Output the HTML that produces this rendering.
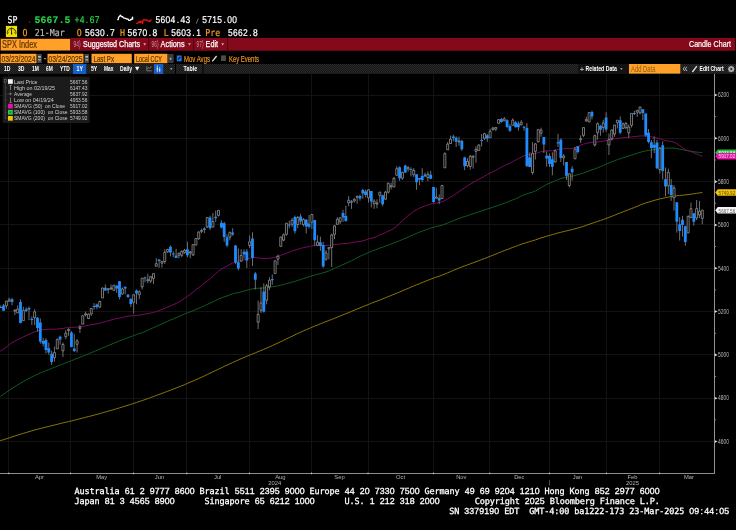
<!DOCTYPE html>
<html><head><meta charset="utf-8"><title>SPX Index Candle Chart</title>
<style>html,body{margin:0;padding:0;background:#000;overflow:hidden}svg{display:block}text{white-space:pre}</style>
</head><body>
<svg width="736" height="530" viewBox="0 0 736 530">
<rect width="736" height="530" fill="#000"/>
<text transform="translate(7.5,23) scale(0.86,1)" fill="#fff" xml:space="preserve" text-rendering="geometricPrecision" stroke="#fff" stroke-width="0.22"><tspan font-family="DejaVu Sans Mono, Liberation Mono, monospace" font-size="9.6" x="0.02 5.83">SP</tspan></text>
<rect x="29" y="21.5" width="1.2" height="1.2" fill="#e01010"/>
<text transform="translate(34.5,23) scale(1.0,1)" fill="#28d848" xml:space="preserve" text-rendering="geometricPrecision" stroke="#28d848" stroke-width="0.15" font-weight="bold"><tspan font-family="Liberation Sans, DejaVu Sans, sans-serif" font-size="9.6" x="0.33 6.33 12.33 18.33 25.67 30.33">5667.5</tspan></text>
<text transform="translate(74.5,23) scale(0.86,1)" fill="#28d848" xml:space="preserve" text-rendering="geometricPrecision" stroke="#28d848" stroke-width="0.22"><tspan font-family="Liberation Sans, DejaVu Sans, sans-serif" font-size="9.8" x="0.05 6.00 13.17 17.62 23.44">+4.67</tspan></text>
<path d="M117.2,19.6 L118.3,19.5 L118.6,17.2 L119.4,16.5 L120.5,15.3 L121.5,16.5 L122.5,16.7 L123.5,17.8 L124.5,18.2 L126,18.5 L127,19.2 L128,19 L128.8,20.3 L130,20.4 L130.8,19.3 L131.8,19.5 L132.6,17.2 L132.7,19.6" fill="none" stroke="#fff" stroke-width="1.3" stroke-linejoin="round"/>
<path d="M136.2,23.5 L137.5,23.3 L138.5,22.3 L139.5,21.5 L140.3,22.8 L141,21.3 L142,21.8 L142.6,23.4 L142.9,20.5 L143.6,19.6 L144.5,19.7 L145.5,20.3 L146.3,19.8 L147.5,20.3 L148.5,21.2 L149.5,21.5 L150.3,20.5 L151.5,19.5" fill="none" stroke="#f01010" stroke-width="1.3" stroke-linejoin="round"/>
<text transform="translate(155.3,23) scale(0.86,1)" fill="#fff" xml:space="preserve" text-rendering="geometricPrecision" stroke="#fff" stroke-width="0.22"><tspan font-family="Liberation Sans, DejaVu Sans, sans-serif" font-size="9.8" x="0.18 6.00 11.81 17.62 24.80 29.25 35.07">5604.43</tspan></text>
<text transform="translate(194.8,23) scale(0.86,1)" fill="#8a8a8a" xml:space="preserve" text-rendering="geometricPrecision" stroke="#8a8a8a" stroke-width="0.22"><tspan font-family="DejaVu Sans Mono, Liberation Mono, monospace" font-size="6.0" x="1.10">/</tspan></text>
<text transform="translate(202.2,23) scale(0.86,1)" fill="#fff" xml:space="preserve" text-rendering="geometricPrecision" stroke="#fff" stroke-width="0.22"><tspan font-family="Liberation Sans, DejaVu Sans, sans-serif" font-size="9.8" x="0.18 6.00 11.81 17.62 24.80 29.25 35.07">5715.00</tspan></text>
<rect x="5.9" y="25.9" width="11.2" height="11.2" fill="#efe004"/>
<path d="M7.5,34.2 A4.4,4.4 0 1 1 15.7,34.2" fill="none" stroke="#3a3400" stroke-width="0.9"/>
<path d="M11.35,27.2 L11.85,27.2 L12.2,34.4 L11.0,34.4 z" fill="#1e1a00"/>
<path d="M8.6,30.4 l0.7,0.5 M14.6,30.4 l-0.7,0.5 M8.2,32.6 h0.9 M15,32.6 h-0.9 M9.9,28.9 l0.4,0.7 M13.3,28.9 l-0.4,0.7" fill="none" stroke="#3a3400" stroke-width="0.6"/>
<text transform="translate(22.5,35.8) scale(0.86,1)" fill="#f59a1c" xml:space="preserve" text-rendering="geometricPrecision" stroke="#f59a1c" stroke-width="0.22"><tspan font-family="DejaVu Sans Mono, Liberation Mono, monospace" font-size="9.6" x="0.02">O</tspan></text>
<text transform="translate(34.8,35.8) scale(0.86,1)" fill="#b8b8b8" xml:space="preserve" text-rendering="geometricPrecision" stroke="#b8b8b8" stroke-width="0.22"><tspan font-family="DejaVu Sans Mono, Liberation Mono, monospace" font-size="9.6" x="0.02 5.83 11.65 17.46 23.27 29.09">21-Mar</tspan></text>
<text transform="translate(76.8,35.8) scale(0.86,1)" fill="#f59a1c" xml:space="preserve" text-rendering="geometricPrecision" stroke="#f59a1c" stroke-width="0.22"><tspan font-family="DejaVu Sans Mono, Liberation Mono, monospace" font-size="9.6" x="0.02">O</tspan></text>
<text transform="translate(84.8,35.8) scale(0.86,1)" fill="#fff" xml:space="preserve" text-rendering="geometricPrecision" stroke="#fff" stroke-width="0.22"><tspan font-family="Liberation Sans, DejaVu Sans, sans-serif" font-size="9.8" x="0.18 6.00 11.81 17.62 24.80 29.25">5630.7</tspan></text>
<text transform="translate(120,35.8) scale(0.86,1)" fill="#f59a1c" xml:space="preserve" text-rendering="geometricPrecision" stroke="#f59a1c" stroke-width="0.22"><tspan font-family="DejaVu Sans Mono, Liberation Mono, monospace" font-size="9.6" x="0.02">H</tspan></text>
<text transform="translate(127.3,35.8) scale(0.86,1)" fill="#fff" xml:space="preserve" text-rendering="geometricPrecision" stroke="#fff" stroke-width="0.22"><tspan font-family="Liberation Sans, DejaVu Sans, sans-serif" font-size="9.8" x="0.18 6.00 11.81 17.62 24.80 29.25">5670.8</tspan></text>
<text transform="translate(163.8,35.8) scale(0.86,1)" fill="#f59a1c" xml:space="preserve" text-rendering="geometricPrecision" stroke="#f59a1c" stroke-width="0.22"><tspan font-family="DejaVu Sans Mono, Liberation Mono, monospace" font-size="9.6" x="0.02">L</tspan></text>
<text transform="translate(171,35.8) scale(0.86,1)" fill="#fff" xml:space="preserve" text-rendering="geometricPrecision" stroke="#fff" stroke-width="0.22"><tspan font-family="Liberation Sans, DejaVu Sans, sans-serif" font-size="9.8" x="0.18 6.00 11.81 17.62 24.80 29.25">5603.1</tspan></text>
<text transform="translate(205.3,35.8) scale(0.86,1)" fill="#f59a1c" xml:space="preserve" text-rendering="geometricPrecision" stroke="#f59a1c" stroke-width="0.22"><tspan font-family="DejaVu Sans Mono, Liberation Mono, monospace" font-size="9.6" x="0.02 5.83 11.65">Pre</tspan></text>
<text transform="translate(227.8,35.8) scale(0.86,1)" fill="#fff" xml:space="preserve" text-rendering="geometricPrecision" stroke="#fff" stroke-width="0.22"><tspan font-family="Liberation Sans, DejaVu Sans, sans-serif" font-size="9.8" x="0.18 6.00 11.81 17.62 24.80 29.25">5662.8</tspan></text>
<rect x="0" y="37.9" width="735.3" height="12.85" fill="#84091b"/>
<rect x="0" y="38" width="70.8" height="12.8" fill="#3c1c04"/>
<rect x="0.8" y="39" width="69.3" height="11.4" fill="#ffa028"/>
<text x="2" y="47.8" font-family="Liberation Sans, DejaVu Sans, sans-serif" font-size="10.6" fill="#5c3200" stroke="#5c3200" stroke-width="0.2" textLength="35" lengthAdjust="spacingAndGlyphs">SPX Index</text>
<text x="73.6" y="46.8" font-family="Liberation Sans, DejaVu Sans, sans-serif" font-size="9.4" fill="#b898a8" textLength="7" lengthAdjust="spacingAndGlyphs">94)</text>
<text x="83" y="46.8" font-family="Liberation Sans, DejaVu Sans, sans-serif" font-size="9.4" fill="#fff" stroke="#fff" stroke-width="0.25" textLength="57" lengthAdjust="spacingAndGlyphs">Suggested Charts</text>
<path d="M143.29999999999998,43.2 h2.8 l-1.4,2.3 z" fill="#d2b0b8"/>
<line x1="148.6" y1="38" x2="148.6" y2="50.6" stroke="#4a0410" stroke-width="1"/>
<text x="151.6" y="46.8" font-family="Liberation Sans, DejaVu Sans, sans-serif" font-size="9.4" fill="#b898a8" textLength="7" lengthAdjust="spacingAndGlyphs">96)</text>
<text x="160.6" y="46.8" font-family="Liberation Sans, DejaVu Sans, sans-serif" font-size="9.4" fill="#fff" stroke="#fff" stroke-width="0.25" textLength="24" lengthAdjust="spacingAndGlyphs">Actions</text>
<path d="M188.1,43.2 h2.8 l-1.4,2.3 z" fill="#d2b0b8"/>
<line x1="193.5" y1="38" x2="193.5" y2="50.6" stroke="#4a0410" stroke-width="1"/>
<text x="196.6" y="46.8" font-family="Liberation Sans, DejaVu Sans, sans-serif" font-size="9.4" fill="#b898a8" textLength="7" lengthAdjust="spacingAndGlyphs">97)</text>
<text x="205.6" y="46.8" font-family="Liberation Sans, DejaVu Sans, sans-serif" font-size="9.4" fill="#fff" stroke="#fff" stroke-width="0.25" textLength="12.5" lengthAdjust="spacingAndGlyphs">Edit</text>
<path d="M221.29999999999998,43.2 h2.8 l-1.4,2.3 z" fill="#d2b0b8"/>
<line x1="227.6" y1="38" x2="227.6" y2="50.6" stroke="#4a0410" stroke-width="1"/>
<text x="689" y="47" font-family="Liberation Sans, DejaVu Sans, sans-serif" font-size="9.6" fill="#fff" stroke="#fff" stroke-width="0.2" textLength="42" lengthAdjust="spacingAndGlyphs">Candle Chart</text>
<rect x="0.5" y="53.8" width="36.0" height="9.4" fill="#ffa028"/>
<text x="1.5" y="61.6" font-family="Liberation Sans, DejaVu Sans, sans-serif" font-size="9.2" fill="#583200" stroke="#583200" stroke-width="0.2" textLength="34" lengthAdjust="spacingAndGlyphs">03/23/2024</text>
<rect x="37.3" y="54" width="4.4" height="9" fill="#4a4a4a"/>
<rect x="38.099999999999994" y="56" width="2.8" height="1.6" fill="#bbb"/>
<rect x="38.099999999999994" y="59" width="2.8" height="1.6" fill="#999"/>
<rect x="44" y="58.2" width="2.2" height="1" fill="#f59a1c"/>
<rect x="47.5" y="53.8" width="36.0" height="9.4" fill="#ffa028"/>
<text x="48.5" y="61.6" font-family="Liberation Sans, DejaVu Sans, sans-serif" font-size="9.2" fill="#583200" stroke="#583200" stroke-width="0.2" textLength="34" lengthAdjust="spacingAndGlyphs">03/24/2025</text>
<rect x="84.5" y="54" width="4.4" height="9" fill="#4a4a4a"/>
<rect x="85.3" y="56" width="2.8" height="1.6" fill="#bbb"/>
<rect x="85.3" y="59" width="2.8" height="1.6" fill="#999"/>
<rect x="91.5" y="53.8" width="40.30000000000001" height="9.4" fill="#ffa028"/>
<text x="93.5" y="61.6" font-family="Liberation Sans, DejaVu Sans, sans-serif" font-size="9.2" fill="#583200" stroke="#583200" stroke-width="0.2" textLength="20.5" lengthAdjust="spacingAndGlyphs">Last Px</text>
<rect x="134.2" y="53.8" width="33.30000000000001" height="9.4" fill="#ffa028"/>
<text x="136" y="61.6" font-family="Liberation Sans, DejaVu Sans, sans-serif" font-size="9.2" fill="#583200" stroke="#583200" stroke-width="0.2" textLength="26" lengthAdjust="spacingAndGlyphs">Local CCY</text>
<rect x="168" y="54" width="5.6" height="9" fill="#3c3c3c"/>
<path d="M169.8,57.2 l2.2,1.5 l-2.2,1.5 z" fill="#aaa"/>
<rect x="176.8" y="55.5" width="4.8" height="5.8" fill="#1f7ae8"/>
<path d="M177.9,59.6 l2.4,-2.8" fill="none" stroke="#04183c" stroke-width="1.2"/>
<text x="184" y="61.8" font-family="Liberation Sans, DejaVu Sans, sans-serif" font-size="9" fill="#f0941c" stroke="#f0941c" stroke-width="0.2" textLength="26" lengthAdjust="spacingAndGlyphs">Mov Avgs</text>
<path d="M212.3,61.3 L216.6,56" fill="none" stroke="#ddd" stroke-width="1.3"/>
<rect x="221" y="55.4" width="4.9" height="5.6" fill="#4c4c4c"/>
<text x="229" y="61.8" font-family="Liberation Sans, DejaVu Sans, sans-serif" font-size="9" fill="#f0941c" stroke="#f0941c" stroke-width="0.2" textLength="30" lengthAdjust="spacingAndGlyphs">Key Events</text>
<defs><pattern id="dth" width="2" height="2" patternUnits="userSpaceOnUse"><rect width="2" height="2" fill="#161616"/><rect width="1" height="1" fill="#2a2a2a"/><rect x="1" y="1" width="1" height="1" fill="#2a2a2a"/></pattern></defs>
<rect x="0" y="64" width="736" height="9.8" fill="url(#dth)"/>
<text x="4" y="71.4" font-family="Liberation Sans, DejaVu Sans, sans-serif" font-size="7.2" fill="#fff" textLength="6.5" lengthAdjust="spacingAndGlyphs" font-weight="bold">1D</text>
<text x="18" y="71.4" font-family="Liberation Sans, DejaVu Sans, sans-serif" font-size="7.2" fill="#fff" textLength="6.5" lengthAdjust="spacingAndGlyphs" font-weight="bold">3D</text>
<text x="32" y="71.4" font-family="Liberation Sans, DejaVu Sans, sans-serif" font-size="7.2" fill="#fff" textLength="6.8" lengthAdjust="spacingAndGlyphs" font-weight="bold">1M</text>
<text x="46" y="71.4" font-family="Liberation Sans, DejaVu Sans, sans-serif" font-size="7.2" fill="#fff" textLength="6.8" lengthAdjust="spacingAndGlyphs" font-weight="bold">6M</text>
<text x="60" y="71.4" font-family="Liberation Sans, DejaVu Sans, sans-serif" font-size="7.2" fill="#fff" textLength="9.8" lengthAdjust="spacingAndGlyphs" font-weight="bold">YTD</text>
<rect x="73" y="64" width="13.2" height="10" fill="#1560c8"/>
<text x="76.5" y="71.4" font-family="Liberation Sans, DejaVu Sans, sans-serif" font-size="7.2" fill="#fff" textLength="6.5" lengthAdjust="spacingAndGlyphs" font-weight="bold">1Y</text>
<text x="91" y="71.4" font-family="Liberation Sans, DejaVu Sans, sans-serif" font-size="7.2" fill="#fff" textLength="6.3" lengthAdjust="spacingAndGlyphs" font-weight="bold">5Y</text>
<text x="104" y="71.4" font-family="Liberation Sans, DejaVu Sans, sans-serif" font-size="7.2" fill="#fff" textLength="9.5" lengthAdjust="spacingAndGlyphs" font-weight="bold">Max</text>
<text x="120" y="71.4" font-family="Liberation Sans, DejaVu Sans, sans-serif" font-size="7.2" fill="#fff" textLength="12.2" lengthAdjust="spacingAndGlyphs" font-weight="bold">Daily</text>
<path d="M135,66.8 h4.4 l-2.2,4 z" fill="#fff"/>
<path d="M146.8,70.8 v-4.6 M146.8,70.8 h4.8 M147.5,69 l1.2,-1.6 l1,1 l1.6,-2" fill="none" stroke="#8a8a8a" stroke-width="0.8"/>
<rect x="154" y="64" width="9.2" height="10" fill="#1560c8"/>
<line x1="157.3" y1="65.4" x2="157.3" y2="72.2" stroke="#e4ecff" stroke-width="0.7"/>
<rect x="156.8" y="68" width="1.0" height="2.4" fill="#e4ecff"/>
<line x1="159.7" y1="67.2" x2="159.7" y2="72.2" stroke="#e4ecff" stroke-width="0.7"/>
<rect x="159.2" y="69" width="1.0" height="2" fill="#e4ecff"/>
<path d="M170,68.2 h2.4 l-1.2,1.8 z" fill="#bbb"/>
<line x1="175.5" y1="64" x2="175.5" y2="74" stroke="#000" stroke-width="1"/>
<text x="183.6" y="71.4" font-family="Liberation Sans, DejaVu Sans, sans-serif" font-size="7.2" fill="#fff" textLength="13.6" lengthAdjust="spacingAndGlyphs" font-weight="bold">Table</text>
<line x1="203" y1="64" x2="203" y2="74" stroke="#000" stroke-width="1"/>
<rect x="578" y="64" width="50.5" height="10" fill="#121212"/>
<text x="579.8" y="71.8" font-family="Liberation Sans, DejaVu Sans, sans-serif" font-size="8" fill="#aaa" textLength="4.4" lengthAdjust="spacingAndGlyphs" font-weight="bold">+</text>
<text x="585.5" y="71.4" font-family="Liberation Sans, DejaVu Sans, sans-serif" font-size="7.2" fill="#fff" textLength="31.5" lengthAdjust="spacingAndGlyphs" font-weight="bold">Related Data</text>
<path d="M620.2,68.2 h2.4 l-1.2,1.8 z" fill="#bbb"/>
<rect x="629" y="64" width="51.3" height="9.6" fill="#ffa028"/>
<text x="631" y="71.8" font-family="Liberation Sans, DejaVu Sans, sans-serif" font-size="8.6" fill="#8e5c0c" textLength="24.5" lengthAdjust="spacingAndGlyphs">Add Data</text>
<text x="682.6" y="72" font-family="Liberation Sans, DejaVu Sans, sans-serif" font-size="10" fill="#c4c4c4" textLength="5.2" lengthAdjust="spacingAndGlyphs">«</text>
<path d="M692.4,72 L696.8,66.2" fill="none" stroke="#ddd" stroke-width="1.4"/>
<text x="699.6" y="71.4" font-family="Liberation Sans, DejaVu Sans, sans-serif" font-size="7.2" fill="#fff" textLength="24" lengthAdjust="spacingAndGlyphs" font-weight="bold">Edit Chart</text>
<g transform="translate(731.2,69)"><circle r="2.2" fill="none" stroke="#bbb" stroke-width="1.3"/><path d="M0,-3.3V3.3M-3.3,0H3.3M-2.3,-2.3L2.3,2.3M-2.3,2.3L2.3,-2.3" stroke="#bbb" stroke-width="0.9"/><circle r="0.9" fill="#1d1d1d"/></g>
<line x1="0" y1="441.5" x2="714" y2="441.5" stroke="#131313" stroke-width="1"/>
<line x1="0" y1="398.5" x2="714" y2="398.5" stroke="#131313" stroke-width="1"/>
<line x1="0" y1="354.5" x2="714" y2="354.5" stroke="#131313" stroke-width="1"/>
<line x1="0" y1="311.5" x2="714" y2="311.5" stroke="#131313" stroke-width="1"/>
<line x1="0" y1="268.5" x2="714" y2="268.5" stroke="#131313" stroke-width="1"/>
<line x1="0" y1="224.5" x2="714" y2="224.5" stroke="#131313" stroke-width="1"/>
<line x1="0" y1="181.5" x2="714" y2="181.5" stroke="#131313" stroke-width="1"/>
<line x1="0" y1="138.5" x2="714" y2="138.5" stroke="#131313" stroke-width="1"/>
<line x1="0" y1="95.5" x2="714" y2="95.5" stroke="#131313" stroke-width="1"/>
<line x1="8.5" y1="74" x2="8.5" y2="473" stroke="#131313" stroke-width="1"/>
<line x1="70.5" y1="74" x2="70.5" y2="473" stroke="#131313" stroke-width="1"/>
<line x1="133.5" y1="74" x2="133.5" y2="473" stroke="#131313" stroke-width="1"/>
<line x1="186.5" y1="74" x2="186.5" y2="473" stroke="#131313" stroke-width="1"/>
<line x1="249.5" y1="74" x2="249.5" y2="473" stroke="#131313" stroke-width="1"/>
<line x1="311.5" y1="74" x2="311.5" y2="473" stroke="#131313" stroke-width="1"/>
<line x1="368.5" y1="74" x2="368.5" y2="473" stroke="#131313" stroke-width="1"/>
<line x1="433.5" y1="74" x2="433.5" y2="473" stroke="#131313" stroke-width="1"/>
<line x1="489.5" y1="74" x2="489.5" y2="473" stroke="#131313" stroke-width="1"/>
<line x1="549.5" y1="74" x2="549.5" y2="473" stroke="#131313" stroke-width="1"/>
<line x1="606.5" y1="74" x2="606.5" y2="473" stroke="#131313" stroke-width="1"/>
<line x1="659.5" y1="74" x2="659.5" y2="473" stroke="#131313" stroke-width="1"/>
<line x1="714.5" y1="74" x2="714.5" y2="474" stroke="#949494" stroke-width="1"/>
<line x1="0" y1="473.5" x2="715" y2="473.5" stroke="#8c8c8c" stroke-width="1"/>
<line x1="549.5" y1="480" x2="549.5" y2="485.5" stroke="#4a4a4a" stroke-width="1"/>
<path d="M715,440.2 l2.6,1.3 l-2.6,1.3 z" fill="#ddd"/>
<text x="718" y="443.8" font-family="Liberation Sans, DejaVu Sans, sans-serif" font-size="6.4" fill="#b8b8b8" textLength="11" lengthAdjust="spacingAndGlyphs">4600</text>
<path d="M715,396.89 l2.6,1.3 l-2.6,1.3 z" fill="#ddd"/>
<text x="718" y="400.49" font-family="Liberation Sans, DejaVu Sans, sans-serif" font-size="6.4" fill="#b8b8b8" textLength="11" lengthAdjust="spacingAndGlyphs">4800</text>
<path d="M715,353.58 l2.6,1.3 l-2.6,1.3 z" fill="#ddd"/>
<text x="718" y="357.18" font-family="Liberation Sans, DejaVu Sans, sans-serif" font-size="6.4" fill="#b8b8b8" textLength="11" lengthAdjust="spacingAndGlyphs">5000</text>
<path d="M715,310.26 l2.6,1.3 l-2.6,1.3 z" fill="#ddd"/>
<text x="718" y="313.86" font-family="Liberation Sans, DejaVu Sans, sans-serif" font-size="6.4" fill="#b8b8b8" textLength="11" lengthAdjust="spacingAndGlyphs">5200</text>
<path d="M715,266.95 l2.6,1.3 l-2.6,1.3 z" fill="#ddd"/>
<text x="718" y="270.55" font-family="Liberation Sans, DejaVu Sans, sans-serif" font-size="6.4" fill="#b8b8b8" textLength="11" lengthAdjust="spacingAndGlyphs">5400</text>
<path d="M715,223.64 l2.6,1.3 l-2.6,1.3 z" fill="#ddd"/>
<text x="718" y="227.24" font-family="Liberation Sans, DejaVu Sans, sans-serif" font-size="6.4" fill="#b8b8b8" textLength="11" lengthAdjust="spacingAndGlyphs">5600</text>
<path d="M715,180.32999999999998 l2.6,1.3 l-2.6,1.3 z" fill="#ddd"/>
<text x="718" y="183.93" font-family="Liberation Sans, DejaVu Sans, sans-serif" font-size="6.4" fill="#b8b8b8" textLength="11" lengthAdjust="spacingAndGlyphs">5800</text>
<path d="M715,137.01 l2.6,1.3 l-2.6,1.3 z" fill="#ddd"/>
<text x="718" y="140.61" font-family="Liberation Sans, DejaVu Sans, sans-serif" font-size="6.4" fill="#b8b8b8" textLength="11" lengthAdjust="spacingAndGlyphs">6000</text>
<path d="M715,93.7 l2.6,1.3 l-2.6,1.3 z" fill="#ddd"/>
<text x="718" y="97.3" font-family="Liberation Sans, DejaVu Sans, sans-serif" font-size="6.4" fill="#b8b8b8" textLength="11" lengthAdjust="spacingAndGlyphs">6200</text>
<rect x="714.6" y="419.44" width="1.5" height="0.8" fill="#999"/>
<rect x="714.6" y="376.13" width="1.5" height="0.8" fill="#999"/>
<rect x="714.6" y="332.82000000000005" width="1.5" height="0.8" fill="#999"/>
<rect x="714.6" y="289.51000000000005" width="1.5" height="0.8" fill="#999"/>
<rect x="714.6" y="246.19" width="1.5" height="0.8" fill="#999"/>
<rect x="714.6" y="202.88" width="1.5" height="0.8" fill="#999"/>
<rect x="714.6" y="159.57" width="1.5" height="0.8" fill="#999"/>
<rect x="714.6" y="116.25999999999999" width="1.5" height="0.8" fill="#999"/>
<rect x="8.25" y="472.6" width="1" height="1.6" fill="#c8c8c8"/>
<rect x="70.0" y="472.6" width="1" height="1.6" fill="#c8c8c8"/>
<rect x="132.9" y="472.6" width="1" height="1.6" fill="#c8c8c8"/>
<rect x="186.3" y="472.6" width="1" height="1.6" fill="#c8c8c8"/>
<rect x="249.0" y="472.6" width="1" height="1.6" fill="#c8c8c8"/>
<rect x="311.0" y="472.6" width="1" height="1.6" fill="#c8c8c8"/>
<rect x="367.5" y="472.6" width="1" height="1.6" fill="#c8c8c8"/>
<rect x="433.0" y="472.6" width="1" height="1.6" fill="#c8c8c8"/>
<rect x="489.3" y="472.6" width="1" height="1.6" fill="#c8c8c8"/>
<rect x="548.9" y="472.6" width="1" height="1.6" fill="#c8c8c8"/>
<rect x="605.9" y="472.6" width="1" height="1.6" fill="#c8c8c8"/>
<rect x="659.2" y="472.6" width="1" height="1.6" fill="#c8c8c8"/>
<text x="39.5" y="479.2" font-family="Liberation Sans, DejaVu Sans, sans-serif" font-size="5.8" fill="#b4b4b4" text-anchor="middle">Apr</text>
<text x="101.7" y="479.2" font-family="Liberation Sans, DejaVu Sans, sans-serif" font-size="5.8" fill="#b4b4b4" text-anchor="middle">May</text>
<text x="159.5" y="479.2" font-family="Liberation Sans, DejaVu Sans, sans-serif" font-size="5.8" fill="#b4b4b4" text-anchor="middle">Jun</text>
<text x="217.7" y="479.2" font-family="Liberation Sans, DejaVu Sans, sans-serif" font-size="5.8" fill="#b4b4b4" text-anchor="middle">Jul</text>
<text x="280.3" y="479.2" font-family="Liberation Sans, DejaVu Sans, sans-serif" font-size="5.8" fill="#b4b4b4" text-anchor="middle">Aug</text>
<text x="339.5" y="479.2" font-family="Liberation Sans, DejaVu Sans, sans-serif" font-size="5.8" fill="#b4b4b4" text-anchor="middle">Sep</text>
<text x="400.5" y="479.2" font-family="Liberation Sans, DejaVu Sans, sans-serif" font-size="5.8" fill="#b4b4b4" text-anchor="middle">Oct</text>
<text x="461.3" y="479.2" font-family="Liberation Sans, DejaVu Sans, sans-serif" font-size="5.8" fill="#b4b4b4" text-anchor="middle">Nov</text>
<text x="519.3" y="479.2" font-family="Liberation Sans, DejaVu Sans, sans-serif" font-size="5.8" fill="#b4b4b4" text-anchor="middle">Dec</text>
<text x="577.5" y="479.2" font-family="Liberation Sans, DejaVu Sans, sans-serif" font-size="5.8" fill="#b4b4b4" text-anchor="middle">Jan</text>
<text x="632.5" y="479.2" font-family="Liberation Sans, DejaVu Sans, sans-serif" font-size="5.8" fill="#b4b4b4" text-anchor="middle">Feb</text>
<text x="689" y="479.2" font-family="Liberation Sans, DejaVu Sans, sans-serif" font-size="5.8" fill="#b4b4b4" text-anchor="middle">Mar</text>
<text x="274.8" y="484.6" font-family="Liberation Sans, DejaVu Sans, sans-serif" font-size="5.8" fill="#b4b4b4" text-anchor="middle">2024</text>
<text x="632.5" y="484.6" font-family="Liberation Sans, DejaVu Sans, sans-serif" font-size="5.8" fill="#b4b4b4" text-anchor="middle">2025</text>
<path d="M0.0,440.8 L0.7,440.5 L3.5,439.7 L6.4,438.8 L9.2,437.9 L12.0,436.9 L14.8,436.0 L17.7,435.1 L20.5,434.2 L23.3,433.4 L26.2,432.5 L29.0,431.7 L31.8,430.8 L34.6,430.0 L37.5,429.3 L40.3,428.5 L43.1,427.8 L46.0,427.1 L48.8,426.4 L51.6,425.7 L54.5,425.0 L57.3,424.3 L60.1,423.6 L62.9,422.9 L65.8,422.2 L68.6,421.6 L71.4,420.9 L74.3,420.2 L77.1,419.5 L79.9,418.8 L82.7,418.1 L85.6,417.3 L88.4,416.6 L91.2,415.9 L94.1,415.1 L96.9,414.4 L99.7,413.6 L102.5,412.8 L105.4,412.0 L108.2,411.2 L111.0,410.4 L113.9,409.6 L116.7,408.7 L119.5,407.9 L122.3,407.0 L125.2,406.1 L128.0,405.3 L130.8,404.3 L133.7,403.4 L136.5,402.5 L139.3,401.5 L142.2,400.6 L145.0,399.6 L147.8,398.6 L150.6,397.6 L153.5,396.5 L156.3,395.5 L159.1,394.4 L162.0,393.4 L164.8,392.3 L167.6,391.3 L170.4,390.2 L173.3,389.1 L176.1,388.0 L178.9,386.9 L181.8,385.8 L184.6,384.6 L187.4,383.4 L190.2,382.2 L193.1,381.0 L195.9,379.8 L198.7,378.5 L201.6,377.2 L204.4,375.9 L207.2,374.5 L210.0,373.2 L212.9,371.8 L215.7,370.5 L218.5,369.1 L221.4,367.8 L224.2,366.4 L227.0,365.1 L229.8,363.8 L232.7,362.5 L235.5,361.2 L238.3,360.0 L241.2,358.7 L244.0,357.5 L246.8,356.3 L249.7,355.1 L252.5,354.0 L255.3,352.8 L258.1,351.7 L261.0,350.5 L263.8,349.3 L266.6,348.1 L269.5,346.9 L272.3,345.6 L275.1,344.3 L277.9,343.0 L280.8,341.7 L283.6,340.3 L286.4,338.9 L289.3,337.6 L292.1,336.2 L294.9,334.8 L297.7,333.5 L300.6,332.2 L303.4,330.9 L306.2,329.7 L309.1,328.5 L311.9,327.3 L314.7,326.1 L317.5,325.0 L320.4,323.8 L323.2,322.7 L326.0,321.6 L328.9,320.5 L331.7,319.4 L334.5,318.3 L337.4,317.2 L340.2,316.0 L343.0,314.9 L345.8,313.7 L348.7,312.6 L351.5,311.4 L354.3,310.2 L357.2,309.0 L360.0,307.9 L362.8,306.7 L365.6,305.6 L368.5,304.5 L371.3,303.3 L374.1,302.2 L377.0,301.1 L379.8,300.0 L382.6,298.9 L385.4,297.8 L388.3,296.6 L391.1,295.5 L393.9,294.3 L396.8,293.2 L399.6,292.0 L402.4,290.8 L405.2,289.6 L408.1,288.4 L410.9,287.2 L413.7,286.0 L416.6,284.8 L419.4,283.7 L422.2,282.6 L425.1,281.4 L427.9,280.3 L430.7,279.2 L433.5,278.1 L436.4,277.1 L439.2,276.2 L442.0,275.1 L444.9,274.0 L447.7,272.8 L450.5,271.6 L453.3,270.4 L456.2,269.3 L459.0,268.1 L461.8,266.9 L464.7,265.9 L467.5,264.9 L470.3,263.8 L473.1,262.8 L476.0,261.7 L478.8,260.7 L481.6,259.6 L484.5,258.6 L487.3,257.4 L490.1,256.3 L492.9,255.2 L495.8,254.1 L498.6,252.9 L501.4,251.7 L504.3,250.6 L507.1,249.6 L509.9,248.5 L512.7,247.4 L515.6,246.4 L518.4,245.3 L521.2,244.3 L524.1,243.3 L526.9,242.5 L529.7,241.6 L532.6,240.8 L535.4,239.9 L538.2,238.9 L541.0,237.9 L543.9,237.1 L546.7,236.2 L549.5,235.4 L552.4,234.6 L555.2,233.8 L558.0,233.0 L560.8,232.3 L563.7,231.5 L566.5,230.9 L569.3,230.2 L572.2,229.5 L575.0,228.8 L577.8,228.0 L580.6,227.2 L583.5,226.3 L586.3,225.3 L589.1,224.3 L592.0,223.3 L594.8,222.4 L597.6,221.4 L600.4,220.5 L603.3,219.5 L606.1,218.5 L608.9,217.4 L611.8,216.3 L614.6,215.2 L617.4,214.0 L620.3,212.9 L623.1,211.8 L625.9,210.7 L628.7,209.6 L631.6,208.5 L634.4,207.5 L637.2,206.3 L640.1,205.1 L642.9,203.9 L645.7,203.0 L648.5,202.1 L651.4,201.3 L654.2,200.4 L657.0,199.7 L659.9,198.9 L662.7,198.3 L665.5,197.7 L668.3,197.1 L671.2,196.6 L674.0,196.1 L676.8,195.8 L679.7,195.5 L682.5,195.2 L685.3,194.9 L688.1,194.6 L691.0,194.2 L693.8,193.8 L696.6,193.3 L699.5,192.9 L702.3,192.5" fill="none" stroke="#8c7606" stroke-width="1.0" stroke-linejoin="round"/>
<path d="M0.0,396.7 L0.7,396.2 L3.5,394.2 L6.4,392.3 L9.2,390.4 L12.0,388.5 L14.8,386.7 L17.7,384.9 L20.5,383.2 L23.3,381.5 L26.2,379.9 L29.0,378.4 L31.8,377.0 L34.6,375.6 L37.5,374.3 L40.3,373.0 L43.1,371.9 L46.0,370.7 L48.8,369.6 L51.6,368.4 L54.5,367.3 L57.3,366.2 L60.1,365.1 L62.9,364.0 L65.8,362.9 L68.6,361.8 L71.4,360.7 L74.3,359.6 L77.1,358.4 L79.9,357.3 L82.7,356.2 L85.6,355.0 L88.4,353.8 L91.2,352.7 L94.1,351.5 L96.9,350.3 L99.7,349.1 L102.5,347.9 L105.4,346.8 L108.2,345.6 L111.0,344.4 L113.9,343.2 L116.7,342.1 L119.5,340.9 L122.3,339.8 L125.2,338.7 L128.0,337.6 L130.8,336.6 L133.7,335.6 L136.5,334.5 L139.3,333.4 L142.2,332.8 L145.0,331.5 L147.8,330.3 L150.6,328.9 L153.5,327.6 L156.3,326.4 L159.1,325.1 L162.0,323.9 L164.8,322.6 L167.6,321.3 L170.4,320.0 L173.3,318.9 L176.1,317.7 L178.9,316.4 L181.8,315.2 L184.6,314.0 L187.4,312.9 L190.2,311.8 L193.1,310.7 L195.9,309.5 L198.7,308.3 L201.6,307.1 L204.4,305.8 L207.2,304.4 L210.0,303.2 L212.9,301.9 L215.7,300.5 L218.5,299.0 L221.4,297.9 L224.2,296.9 L227.0,296.0 L229.8,294.9 L232.7,293.9 L235.5,293.1 L238.3,292.6 L241.2,291.9 L244.0,291.0 L246.8,290.3 L249.7,289.5 L252.5,288.8 L255.3,288.3 L258.1,288.3 L261.0,288.1 L263.8,288.0 L266.6,287.6 L269.5,287.2 L272.3,286.8 L275.1,286.4 L277.9,285.9 L280.8,285.2 L283.6,284.5 L286.4,283.6 L289.3,282.9 L292.1,282.1 L294.9,281.4 L297.7,280.4 L300.6,279.6 L303.4,278.5 L306.2,277.7 L309.1,276.8 L311.9,275.9 L314.7,275.1 L317.5,274.4 L320.4,273.6 L323.2,272.8 L326.0,271.9 L328.9,270.9 L331.7,269.7 L334.5,268.4 L337.4,267.0 L340.2,265.8 L343.0,264.6 L345.8,263.4 L348.7,262.0 L351.5,260.8 L354.3,259.3 L357.2,257.7 L360.0,256.3 L362.8,255.0 L365.6,253.8 L368.5,252.5 L371.3,251.4 L374.1,250.3 L377.0,249.3 L379.8,248.1 L382.6,247.2 L385.4,246.2 L388.3,245.1 L391.1,244.1 L393.9,243.0 L396.8,241.8 L399.6,240.7 L402.4,239.5 L405.2,238.3 L408.1,237.1 L410.9,235.8 L413.7,234.5 L416.6,233.4 L419.4,232.2 L422.2,231.1 L425.1,230.1 L427.9,229.1 L430.7,228.1 L433.5,227.3 L436.4,226.5 L439.2,225.9 L442.0,225.2 L444.9,224.1 L447.7,223.0 L450.5,221.9 L453.3,220.8 L456.2,219.6 L459.0,218.5 L461.8,217.4 L464.7,216.6 L467.5,215.7 L470.3,214.7 L473.1,213.7 L476.0,212.8 L478.8,211.9 L481.6,210.9 L484.5,210.0 L487.3,209.1 L490.1,208.2 L492.9,207.2 L495.8,206.3 L498.6,205.3 L501.4,204.4 L504.3,203.3 L507.1,202.2 L509.9,201.0 L512.7,199.9 L515.6,198.8 L518.4,197.5 L521.2,196.0 L524.1,194.8 L526.9,193.9 L529.7,192.9 L532.6,192.1 L535.4,190.9 L538.2,189.4 L541.0,187.6 L543.9,186.0 L546.7,184.4 L549.5,183.2 L552.4,182.1 L555.2,180.8 L558.0,179.6 L560.8,178.6 L563.7,177.8 L566.5,177.2 L569.3,176.7 L572.2,176.2 L575.0,175.5 L577.8,174.7 L580.6,173.9 L583.5,173.0 L586.3,172.0 L589.1,170.9 L592.0,169.7 L594.8,169.0 L597.6,167.8 L600.4,166.7 L603.3,165.4 L606.1,164.1 L608.9,162.9 L611.8,161.8 L614.6,160.7 L617.4,159.6 L620.3,158.7 L623.1,157.8 L625.9,156.9 L628.7,155.9 L631.6,155.1 L634.4,154.2 L637.2,153.3 L640.1,152.4 L642.9,151.5 L645.7,150.9 L648.5,150.4 L651.4,150.0 L654.2,149.5 L657.0,149.1 L659.9,148.6 L662.7,148.4 L665.5,148.2 L668.3,148.0 L671.2,148.1 L674.0,148.1 L676.8,148.6 L679.7,149.2 L682.5,149.7 L685.3,150.3 L688.1,150.8 L691.0,151.2 L693.8,151.7 L696.6,152.1 L699.5,152.4 L702.3,152.7" fill="none" stroke="#0f5c20" stroke-width="1.0" stroke-linejoin="round"/>
<path d="M0.0,351.3 L0.7,350.9 L3.5,349.1 L6.4,347.0 L9.2,344.7 L12.0,342.7 L14.8,341.2 L17.7,339.6 L20.5,338.4 L23.3,336.9 L26.2,335.6 L29.0,334.2 L31.8,333.2 L34.6,332.0 L37.5,330.8 L40.3,330.1 L43.1,329.7 L46.0,329.4 L48.8,329.1 L51.6,329.3 L54.5,329.2 L57.3,329.0 L60.1,328.8 L62.9,328.4 L65.8,327.9 L68.6,327.6 L71.4,327.4 L74.3,327.3 L77.1,326.9 L79.9,326.7 L82.7,326.3 L85.6,325.8 L88.4,325.3 L91.2,324.7 L94.1,324.2 L96.9,323.8 L99.7,323.3 L102.5,322.3 L105.4,321.5 L108.2,320.8 L111.0,320.0 L113.9,319.2 L116.7,318.6 L119.5,318.1 L122.3,317.5 L125.2,316.7 L128.0,316.2 L130.8,315.9 L133.7,315.7 L136.5,315.5 L139.3,315.2 L142.2,314.7 L145.0,314.0 L147.8,313.6 L150.6,313.1 L153.5,312.6 L156.3,311.6 L159.1,310.7 L162.0,309.4 L164.8,308.3 L167.6,307.0 L170.4,305.9 L173.3,304.6 L176.1,303.5 L178.9,302.0 L181.8,300.2 L184.6,298.3 L187.4,296.4 L190.2,294.4 L193.1,292.1 L195.9,289.8 L198.7,287.6 L201.6,285.5 L204.4,283.2 L207.2,280.9 L210.0,278.8 L212.9,276.3 L215.7,273.7 L218.5,271.1 L221.4,269.1 L224.2,267.5 L227.0,266.1 L229.8,264.5 L232.7,263.0 L235.5,262.1 L238.3,261.4 L241.2,260.4 L244.0,259.8 L246.8,259.2 L249.7,258.2 L252.5,257.6 L255.3,257.5 L258.1,258.0 L261.0,258.1 L263.8,258.6 L266.6,258.5 L269.5,258.2 L272.3,257.7 L275.1,257.1 L277.9,256.3 L280.8,255.2 L283.6,254.4 L286.4,253.2 L289.3,252.2 L292.1,251.0 L294.9,250.2 L297.7,249.3 L300.6,248.5 L303.4,247.6 L306.2,247.1 L309.1,246.7 L311.9,245.9 L314.7,245.6 L317.5,245.3 L320.4,245.2 L323.2,245.5 L326.0,245.5 L328.9,245.4 L331.7,245.0 L334.5,244.6 L337.4,244.3 L340.2,244.0 L343.0,243.7 L345.8,243.5 L348.7,243.2 L351.5,242.7 L354.3,242.2 L357.2,241.8 L360.0,241.5 L362.8,240.9 L365.6,240.0 L368.5,238.9 L371.3,238.3 L374.1,237.6 L377.0,236.4 L379.8,234.9 L382.6,233.9 L385.4,232.6 L388.3,231.1 L391.1,230.0 L393.9,228.4 L396.8,226.2 L399.6,223.4 L402.4,220.8 L405.2,218.1 L408.1,215.7 L410.9,213.5 L413.7,211.3 L416.6,209.7 L419.4,208.2 L422.2,207.0 L425.1,205.9 L427.9,204.9 L430.7,204.0 L433.5,203.6 L436.4,202.9 L439.2,202.6 L442.0,201.8 L444.9,200.5 L447.7,198.9 L450.5,197.1 L453.3,195.6 L456.2,193.6 L459.0,191.6 L461.8,189.7 L464.7,187.7 L467.5,185.9 L470.3,184.0 L473.1,182.5 L476.0,180.9 L478.8,179.4 L481.6,177.9 L484.5,176.2 L487.3,174.6 L490.1,173.2 L492.9,171.7 L495.8,170.3 L498.6,168.7 L501.4,167.2 L504.3,165.7 L507.1,164.4 L509.9,163.2 L512.7,161.6 L515.6,160.1 L518.4,158.6 L521.2,157.2 L524.1,155.6 L526.9,155.1 L529.7,154.8 L532.6,154.1 L535.4,153.4 L538.2,152.6 L541.0,151.7 L543.9,151.1 L546.7,150.8 L549.5,150.8 L552.4,150.7 L555.2,150.3 L558.0,149.5 L560.8,149.1 L563.7,148.6 L566.5,148.6 L569.3,148.6 L572.2,148.5 L575.0,147.4 L577.8,146.5 L580.6,145.3 L583.5,144.1 L586.3,143.5 L589.1,142.8 L592.0,142.4 L594.8,142.3 L597.6,142.0 L600.4,141.7 L603.3,141.2 L606.1,140.5 L608.9,140.0 L611.8,139.5 L614.6,138.9 L617.4,138.3 L620.3,138.0 L623.1,137.7 L625.9,137.5 L628.7,137.3 L631.6,136.9 L634.4,136.6 L637.2,136.3 L640.1,136.0 L642.9,135.8 L645.7,136.2 L648.5,136.5 L651.4,136.8 L654.2,137.4 L657.0,138.2 L659.9,138.6 L662.7,139.6 L665.5,140.8 L668.3,140.9 L671.2,141.4 L674.0,142.1 L676.8,143.7 L679.7,145.7 L682.5,147.6 L685.3,149.6 L688.1,150.7 L691.0,151.6 L693.8,152.7 L696.6,153.9 L699.5,155.2 L702.3,156.3" fill="none" stroke="#7a0c5e" stroke-width="1.0" stroke-linejoin="round"/>
<path d="M0.70,305.3V308.1M3.53,304.0V310.9M6.36,301.0V301.1M6.36,305.9V308.7M9.19,297.7V299.8M9.19,301.2V301.8M12.02,297.9V305.3M14.85,309.8V310.0M14.85,311.0V315.0M17.67,305.5V309.1M17.67,312.9V312.9M20.50,299.4V323.3M23.33,306.8V310.6M23.33,320.7V320.9M26.16,307.4V312.2M28.99,306.4V320.2M31.82,316.3V325.0M34.65,309.2V311.8M34.65,317.6V325.0M37.48,317.0V331.7M40.31,318.5V343.6M43.14,337.8V346.4M45.96,338.2V353.4M48.79,342.7V354.7M51.62,350.8V364.9M54.45,346.6V352.6M54.45,357.7V361.6M57.28,338.4V339.6M57.28,348.8V349.0M60.11,335.6V344.7M62.94,342.5V344.4M62.94,350.8V357.0M65.77,330.2V333.2M65.77,336.7V339.1M68.60,328.2V329.5M68.60,330.5V335.8M71.43,331.1V347.3M74.25,334.1V352.1M77.08,339.1V341.0M77.08,344.3V352.5M79.91,324.8V327.2M79.91,328.5V333.0M82.74,315.7V315.7M82.74,324.1V324.1M85.57,311.6V313.8M85.57,314.8V316.3M88.40,313.5V314.2M88.40,318.5V319.1M91.23,308.3V308.5M91.23,313.9V315.9M94.06,303.1V309.6M96.89,303.6V309.2M99.72,300.7V301.5M99.72,307.0V307.9M102.54,287.5V288.1M102.54,297.9V297.9M105.37,284.5V290.8M108.20,288.8V288.7M108.20,289.7V293.6M111.03,284.5V288.0M111.03,289.0V289.5M113.86,284.7V285.3M113.86,290.3V290.6M116.69,284.9V292.9M119.52,281.0V299.4M122.35,287.5V288.9M122.35,294.0V294.7M125.18,286.7V294.2M128.00,293.8V298.1M130.83,298.6V306.8M133.66,294.2V294.8M133.66,302.3V313.5M136.49,289.5V304.2M139.32,290.3V291.8M139.32,294.7V299.2M142.15,278.2V278.2M142.15,286.9V289.5M144.98,276.5V282.3M147.81,273.7V279.7M147.81,280.7V283.2M150.64,275.8V276.7M150.64,281.0V283.2M153.47,273.6V273.6M153.47,278.4V284.1M156.29,258.1V263.7M156.29,266.3V266.3M159.12,259.4V267.8M161.95,261.3V261.4M161.95,263.1V267.6M164.78,249.2V252.4M164.78,261.5V263.9M167.61,248.8V249.4M167.61,251.8V252.9M170.44,245.5V256.3M173.27,251.4V257.0M176.10,248.8V258.1M178.93,252.7V253.2M178.93,255.3V258.3M181.76,250.3V251.4M181.76,255.3V257.2M184.59,248.8V250.3M184.59,252.4V253.7M187.41,241.6V257.2M190.24,251.1V251.9M190.24,252.9V258.3M193.07,244.6V244.6M193.07,255.0V255.7M195.90,238.1V238.6M195.90,245.1V245.1M198.73,231.4V232.0M198.73,238.6V239.9M201.56,228.6V230.4M201.56,231.4V233.2M204.39,227.1V233.2M207.22,217.4V217.6M207.22,226.9V228.0M210.05,215.8V230.1M212.88,213.0V221.6M212.88,227.1V227.1M215.70,210.6V221.9M218.53,210.0V210.4M218.53,215.4V216.5M221.36,220.2V228.4M224.19,221.9V241.8M227.02,234.3V247.2M229.85,231.4V232.6M229.85,237.1V240.3M232.68,228.2V235.8M235.51,244.9V264.1M238.34,248.5V270.4M241.16,249.2V255.5M241.16,261.1V261.8M243.99,249.4V258.7M246.82,249.0V268.0M249.65,235.5V241.8M249.65,245.5V248.1M252.48,232.3V266.1M255.31,271.9V289.5M258.14,300.7V314.5M258.14,322.2V329.1M260.97,287.3V302.9M260.97,310.3V313.1M263.80,283.4V312.6M266.63,283.8V285.7M266.63,300.3V304.4M269.45,277.3V280.3M269.45,286.9V289.9M272.28,274.5V284.7M275.11,260.5V260.8M275.11,273.4V273.4M277.94,254.6V256.3M277.94,259.2V265.0M280.77,236.6V237.2M280.77,246.4V246.4M283.60,233.4V234.8M283.60,240.1V241.2M286.43,223.2V223.2M286.43,234.3V235.8M289.26,220.6V228.2M292.09,218.0V220.4M292.09,224.3V226.9M294.92,215.6V233.6M297.75,216.1V217.4M297.75,224.5V228.2M300.57,213.9V224.5M303.40,218.2V219.4M303.40,224.5V226.5M306.23,219.1V233.6M309.06,215.0V228.6M311.89,213.9V214.5M311.89,222.3V229.1M314.72,220.0V245.7M317.55,235.3V242.2M317.55,245.3V245.9M320.38,236.6V250.9M323.21,241.8V267.8M326.04,250.1V252.9M326.04,259.2V260.9M328.86,247.2V247.6M328.86,248.8V259.4M331.69,233.6V234.9M331.69,247.5V267.0M334.52,224.9V225.9M334.52,234.3V239.0M337.35,217.1V219.3M337.35,224.3V224.7M340.18,217.1V217.8M340.18,221.7V224.1M343.01,209.8V221.9M345.84,205.7V221.7M348.67,196.1V200.3M348.67,202.8V206.3M351.50,200.0V208.9M354.32,197.9V199.3M354.32,200.9V202.4M357.15,195.7V196.2M357.15,197.4V203.7M359.98,194.4V200.7M362.81,188.8V198.7M365.64,189.6V197.4M368.47,189.2V189.8M368.47,197.7V202.6M371.30,190.9V207.4M374.13,199.2V201.2M374.13,203.7V208.9M376.96,199.4V203.0M376.96,204.0V208.3M379.79,191.8V192.2M379.79,195.3V202.8M382.62,194.8V206.3M385.44,190.9V192.2M385.44,199.2V200.2M388.27,182.5V183.3M388.27,192.2V193.5M391.10,182.7V185.7M391.10,186.7V189.4M393.93,176.9V178.4M393.93,187.0V187.0M396.76,166.2V168.7M396.76,175.3V175.3M399.59,166.5V180.8M402.42,171.7V172.4M402.42,178.2V179.9M405.25,164.7V173.0M408.08,166.0V167.6M408.08,168.8V171.7M410.91,167.3V176.4M413.73,168.0V170.5M413.73,174.7V177.1M416.56,174.3V189.9M419.39,177.9V185.1M422.22,168.2V181.8M425.05,172.5V176.6M427.88,171.4V174.5M427.88,177.5V181.2M430.71,170.8V179.2M433.54,187.0V202.8M436.37,187.7V197.0M436.37,198.3V198.3M439.19,194.4V204.1M442.02,185.3V185.4M442.02,198.5V198.5M444.85,152.2V153.7M444.85,167.8V167.8M447.68,142.0V144.1M447.68,149.8V149.8M450.51,135.7V139.3M450.51,143.5V143.5M453.34,134.6V141.3M456.17,136.4V147.0M459.00,136.6V141.0M459.00,142.0V145.9M461.83,139.8V150.9M464.66,156.7V170.1M467.49,158.2V161.4M467.49,165.6V167.5M470.31,155.0V156.3M470.31,166.5V169.7M473.14,155.6V156.1M473.14,157.1V168.6M475.97,146.3V149.4M475.97,151.3V162.8M478.80,144.4V145.0M478.80,150.4V150.4M481.63,134.0V146.3M484.46,132.9V133.6M484.46,138.3V140.0M487.29,134.0V141.8M490.12,128.8V131.3M490.12,137.7V137.7M492.95,126.8V128.1M492.95,129.7V130.7M495.78,127.1V127.5M495.78,129.2V131.2M498.60,119.0V119.6M498.60,123.4V123.4M501.43,118.0V122.7M504.26,116.9V118.8M504.26,120.8V121.2M507.09,119.3V127.9M509.92,124.2V132.0M512.75,118.4V120.1M512.75,125.3V125.3M515.58,121.2V127.3M518.41,121.4V130.7M521.24,119.9V122.3M521.24,124.7V125.5M524.07,126.0V130.7M526.89,123.2V167.1M529.72,152.4V167.3M532.55,142.2V153.3M532.55,172.5V174.7M535.38,143.1V143.9M535.38,151.3V159.5M538.21,129.6V129.6M538.21,141.8V142.4M541.04,127.7V130.2M541.04,133.1V136.8M543.87,137.0V153.0M546.70,151.3V166.7M549.53,153.7V166.9M552.36,152.4V175.3M555.18,149.4V150.8M555.18,161.9V162.6M558.01,133.8V147.0M560.84,138.3V162.1M563.67,154.1V156.0M563.67,157.8V165.6M566.50,162.1V180.1M569.33,173.4V173.8M569.33,185.5V187.5M572.16,166.2V180.5M574.99,147.0V149.2M574.99,158.9V158.9M577.82,146.1V153.5M580.65,135.3V138.7M580.65,139.7V143.1M583.47,127.3V127.6M583.47,135.3V137.0M586.30,116.7V119.6M586.30,120.8V121.9M589.13,112.6V112.6M589.13,121.9V122.3M591.96,110.6V119.3M594.79,134.6V135.7M594.79,145.0V146.5M597.62,122.3V123.7M597.62,132.7V139.6M600.45,124.9V135.7M603.28,119.7V122.9M603.28,127.5V132.5M606.11,112.3V131.8M608.94,133.5V139.5M608.94,145.0V155.0M611.76,129.2V130.1M611.76,138.7V140.5M614.59,124.9V125.0M614.59,134.0V136.8M617.42,120.1V120.2M617.42,122.7V128.4M620.25,116.4V134.2M623.08,122.5V123.9M623.08,128.4V128.8M625.91,121.9V123.5M625.91,127.7V129.2M628.74,124.7V127.1M628.74,132.9V137.7M631.57,113.2V113.4M631.57,125.3V127.5M634.40,110.8V115.1M637.23,110.3V110.3M637.23,112.1V116.9M640.05,106.4V107.1M640.05,113.0V114.3M642.88,109.3V120.1M645.71,113.6V136.6M648.54,129.0V143.3M651.37,140.0V158.2M654.20,136.4V153.0M657.03,139.8V169.1M659.86,147.2V148.2M659.86,169.5V173.6M662.69,141.3V179.5M665.52,167.5V196.4M668.34,168.6V172.4M668.34,185.7V194.2M671.17,179.0V200.9M674.00,185.3V188.1M674.00,197.7V210.6M676.83,202.2V232.7M679.66,217.1V240.5M682.49,215.8V236.6M685.32,225.6V245.7M688.15,215.2V216.5M688.15,233.0V233.0M690.98,202.6V208.7M690.98,217.4V218.2M693.81,213.2V225.6M696.63,200.0V208.6M696.63,218.0V220.2M699.46,200.9V211.3M699.46,215.0V218.0M702.29,209.6V210.3M702.29,218.3V224.3" fill="none" stroke="#8c8c8c" stroke-width="0.8"/>
<path d="M5.36,301.1h2.0V305.9h-2.0zM8.19,299.8h2.0V301.2h-2.0zM13.85,310.0h2.0V311.0h-2.0zM16.67,309.1h2.0V312.9h-2.0zM22.33,310.6h2.0V320.7h-2.0zM33.65,311.8h2.0V317.6h-2.0zM53.45,352.6h2.0V357.7h-2.0zM56.28,339.6h2.0V348.8h-2.0zM61.94,344.4h2.0V350.8h-2.0zM64.77,333.2h2.0V336.7h-2.0zM67.60,329.5h2.0V330.5h-2.0zM76.08,341.0h2.0V344.3h-2.0zM78.91,327.2h2.0V328.5h-2.0zM81.74,315.7h2.0V324.1h-2.0zM84.57,313.8h2.0V314.8h-2.0zM87.40,314.2h2.0V318.5h-2.0zM90.23,308.5h2.0V313.9h-2.0zM98.72,301.5h2.0V307.0h-2.0zM101.54,288.1h2.0V297.9h-2.0zM107.20,288.7h2.0V289.7h-2.0zM110.03,288.0h2.0V289.0h-2.0zM112.86,285.3h2.0V290.3h-2.0zM121.35,288.9h2.0V294.0h-2.0zM132.66,294.8h2.0V302.3h-2.0zM138.32,291.8h2.0V294.7h-2.0zM141.15,278.2h2.0V286.9h-2.0zM146.81,279.7h2.0V280.7h-2.0zM149.64,276.7h2.0V281.0h-2.0zM152.47,273.6h2.0V278.4h-2.0zM155.29,263.7h2.0V266.3h-2.0zM160.95,261.4h2.0V263.1h-2.0zM163.78,252.4h2.0V261.5h-2.0zM166.61,249.4h2.0V251.8h-2.0zM177.93,253.2h2.0V255.3h-2.0zM180.76,251.4h2.0V255.3h-2.0zM183.59,250.3h2.0V252.4h-2.0zM189.24,251.9h2.0V252.9h-2.0zM192.07,244.6h2.0V255.0h-2.0zM194.90,238.6h2.0V245.1h-2.0zM197.73,232.0h2.0V238.6h-2.0zM200.56,230.4h2.0V231.4h-2.0zM206.22,217.6h2.0V226.9h-2.0zM211.88,221.6h2.0V227.1h-2.0zM217.53,210.4h2.0V215.4h-2.0zM228.85,232.6h2.0V237.1h-2.0zM240.16,255.5h2.0V261.1h-2.0zM248.65,241.8h2.0V245.5h-2.0zM257.14,314.5h2.0V322.2h-2.0zM259.97,302.9h2.0V310.3h-2.0zM265.63,285.7h2.0V300.3h-2.0zM268.45,280.3h2.0V286.9h-2.0zM274.11,260.8h2.0V273.4h-2.0zM276.94,256.3h2.0V259.2h-2.0zM279.77,237.2h2.0V246.4h-2.0zM282.60,234.8h2.0V240.1h-2.0zM285.43,223.2h2.0V234.3h-2.0zM291.09,220.4h2.0V224.3h-2.0zM296.75,217.4h2.0V224.5h-2.0zM302.40,219.4h2.0V224.5h-2.0zM310.89,214.5h2.0V222.3h-2.0zM316.55,242.2h2.0V245.3h-2.0zM325.04,252.9h2.0V259.2h-2.0zM327.86,247.6h2.0V248.8h-2.0zM330.69,234.9h2.0V247.5h-2.0zM333.52,225.9h2.0V234.3h-2.0zM336.35,219.3h2.0V224.3h-2.0zM339.18,217.8h2.0V221.7h-2.0zM347.67,200.3h2.0V202.8h-2.0zM353.32,199.3h2.0V200.9h-2.0zM356.15,196.2h2.0V197.4h-2.0zM367.47,189.8h2.0V197.7h-2.0zM373.13,201.2h2.0V203.7h-2.0zM375.96,203.0h2.0V204.0h-2.0zM378.79,192.2h2.0V195.3h-2.0zM384.44,192.2h2.0V199.2h-2.0zM387.27,183.3h2.0V192.2h-2.0zM390.10,185.7h2.0V186.7h-2.0zM392.93,178.4h2.0V187.0h-2.0zM395.76,168.7h2.0V175.3h-2.0zM401.42,172.4h2.0V178.2h-2.0zM407.08,167.6h2.0V168.8h-2.0zM412.73,170.5h2.0V174.7h-2.0zM426.88,174.5h2.0V177.5h-2.0zM435.37,197.0h2.0V198.3h-2.0zM441.02,185.4h2.0V198.5h-2.0zM443.85,153.7h2.0V167.8h-2.0zM446.68,144.1h2.0V149.8h-2.0zM449.51,139.3h2.0V143.5h-2.0zM458.00,141.0h2.0V142.0h-2.0zM466.49,161.4h2.0V165.6h-2.0zM469.31,156.3h2.0V166.5h-2.0zM472.14,156.1h2.0V157.1h-2.0zM474.97,149.4h2.0V151.3h-2.0zM477.80,145.0h2.0V150.4h-2.0zM483.46,133.6h2.0V138.3h-2.0zM489.12,131.3h2.0V137.7h-2.0zM491.95,128.1h2.0V129.7h-2.0zM494.78,127.5h2.0V129.2h-2.0zM497.60,119.6h2.0V123.4h-2.0zM503.26,118.8h2.0V120.8h-2.0zM511.75,120.1h2.0V125.3h-2.0zM520.24,122.3h2.0V124.7h-2.0zM531.55,153.3h2.0V172.5h-2.0zM534.38,143.9h2.0V151.3h-2.0zM537.21,129.6h2.0V141.8h-2.0zM540.04,130.2h2.0V133.1h-2.0zM554.18,150.8h2.0V161.9h-2.0zM562.67,156.0h2.0V157.8h-2.0zM568.33,173.8h2.0V185.5h-2.0zM573.99,149.2h2.0V158.9h-2.0zM579.65,138.7h2.0V139.7h-2.0zM582.47,127.6h2.0V135.3h-2.0zM585.30,119.6h2.0V120.8h-2.0zM588.13,112.6h2.0V121.9h-2.0zM593.79,135.7h2.0V145.0h-2.0zM596.62,123.7h2.0V132.7h-2.0zM602.28,122.9h2.0V127.5h-2.0zM607.94,139.5h2.0V145.0h-2.0zM610.76,130.1h2.0V138.7h-2.0zM613.59,125.0h2.0V134.0h-2.0zM616.42,120.2h2.0V122.7h-2.0zM622.08,123.9h2.0V128.4h-2.0zM624.91,123.5h2.0V127.7h-2.0zM627.74,127.1h2.0V132.9h-2.0zM630.57,113.4h2.0V125.3h-2.0zM636.23,110.3h2.0V112.1h-2.0zM639.05,107.1h2.0V113.0h-2.0zM658.86,148.2h2.0V169.5h-2.0zM667.34,172.4h2.0V185.7h-2.0zM673.00,188.1h2.0V197.7h-2.0zM687.15,216.5h2.0V233.0h-2.0zM689.98,208.7h2.0V217.4h-2.0zM695.63,208.6h2.0V218.0h-2.0zM698.46,211.3h2.0V215.0h-2.0zM701.29,210.3h2.0V218.3h-2.0z" fill="#000" stroke="#b4b4b4" stroke-width="0.65"/>
<path d="M-0.70,307.0h2.8V308.0h-2.8zM2.13,305.5h2.8V310.8h-2.8zM10.62,299.2h2.8V302.1h-2.8zM19.10,302.0h2.8V323.0h-2.8zM24.76,309.2h2.8V311.0h-2.8zM27.59,307.9h2.8V309.4h-2.8zM30.42,318.7h2.8V320.1h-2.8zM36.08,317.8h2.8V328.1h-2.8zM38.91,322.6h2.8V341.5h-2.8zM41.74,341.0h2.8V343.7h-2.8zM44.56,340.1h2.8V350.1h-2.8zM47.39,348.2h2.8V352.5h-2.8zM50.22,353.8h2.8V362.0h-2.8zM58.71,336.7h2.8V339.4h-2.8zM70.03,332.6h2.8V347.1h-2.8zM72.85,348.6h2.8V350.9h-2.8zM92.66,305.9h2.8V306.9h-2.8zM95.49,304.4h2.8V306.9h-2.8zM103.97,287.7h2.8V290.5h-2.8zM115.29,285.8h2.8V288.4h-2.8zM118.12,281.2h2.8V296.9h-2.8zM123.78,286.7h2.8V288.6h-2.8zM126.60,294.7h2.8V297.1h-2.8zM129.43,298.8h2.8V303.9h-2.8zM135.09,290.6h2.8V293.5h-2.8zM143.58,277.5h2.8V278.5h-2.8zM157.72,259.4h2.8V260.9h-2.8zM169.04,246.8h2.8V252.4h-2.8zM171.87,253.6h2.8V254.6h-2.8zM174.70,255.5h2.8V257.9h-2.8zM186.01,249.2h2.8V255.2h-2.8zM202.99,228.4h2.8V229.9h-2.8zM208.65,217.4h2.8V228.3h-2.8zM214.30,216.7h2.8V218.2h-2.8zM219.96,222.8h2.8V227.5h-2.8zM222.79,223.2h2.8V236.9h-2.8zM225.62,237.3h2.8V245.5h-2.8zM231.28,232.5h2.8V234.5h-2.8zM234.11,245.5h2.8V262.4h-2.8zM236.94,262.2h2.8V268.4h-2.8zM242.59,251.8h2.8V254.5h-2.8zM245.42,251.4h2.8V260.4h-2.8zM251.08,238.6h2.8V258.1h-2.8zM253.91,273.4h2.8V279.8h-2.8zM262.40,291.4h2.8V311.7h-2.8zM270.88,278.9h2.8V280.3h-2.8zM287.86,224.5h2.8V225.6h-2.8zM293.52,216.9h2.8V231.3h-2.8zM299.17,216.5h2.8V221.3h-2.8zM304.83,219.7h2.8V226.6h-2.8zM307.66,223.4h2.8V226.7h-2.8zM313.32,220.0h2.8V240.3h-2.8zM318.98,242.3h2.8V245.9h-2.8zM321.81,245.1h2.8V266.4h-2.8zM341.61,213.0h2.8V217.4h-2.8zM344.44,216.1h2.8V221.0h-2.8zM350.10,201.3h2.8V202.7h-2.8zM358.58,196.1h2.8V198.5h-2.8zM361.41,189.9h2.8V193.5h-2.8zM364.24,191.4h2.8V195.0h-2.8zM369.90,190.9h2.8V201.4h-2.8zM381.22,195.3h2.8V204.2h-2.8zM398.19,167.3h2.8V178.3h-2.8zM403.85,165.4h2.8V172.6h-2.8zM409.51,169.1h2.8V170.1h-2.8zM415.16,174.3h2.8V182.2h-2.8zM417.99,177.9h2.8V179.5h-2.8zM420.82,176.0h2.8V179.9h-2.8zM423.65,174.5h2.8V176.5h-2.8zM429.31,174.7h2.8V178.7h-2.8zM432.14,187.0h2.8V202.1h-2.8zM437.80,197.9h2.8V200.5h-2.8zM451.94,136.6h2.8V138.0h-2.8zM454.77,137.7h2.8V141.8h-2.8zM460.43,140.7h2.8V149.3h-2.8zM463.26,157.4h2.8V166.3h-2.8zM480.23,140.0h2.8V141.0h-2.8zM485.89,135.3h2.8V138.6h-2.8zM500.03,119.0h2.8V122.0h-2.8zM505.69,120.3h2.8V126.9h-2.8zM508.52,126.0h2.8V130.8h-2.8zM514.18,122.3h2.8V127.2h-2.8zM517.01,123.6h2.8V127.2h-2.8zM522.67,126.7h2.8V127.7h-2.8zM525.49,128.1h2.8V166.0h-2.8zM528.32,157.4h2.8V167.1h-2.8zM542.47,137.0h2.8V144.6h-2.8zM545.30,155.6h2.8V158.5h-2.8zM548.13,155.9h2.8V163.9h-2.8zM550.96,159.3h2.8V166.8h-2.8zM556.61,142.2h2.8V143.6h-2.8zM559.44,139.8h2.8V158.0h-2.8zM565.10,162.1h2.8V175.8h-2.8zM570.76,168.8h2.8V172.3h-2.8zM576.42,146.3h2.8V151.9h-2.8zM590.56,112.1h2.8V116.4h-2.8zM599.05,126.0h2.8V129.8h-2.8zM604.71,117.5h2.8V129.5h-2.8zM618.85,120.3h2.8V132.7h-2.8zM633.00,112.9h2.8V113.9h-2.8zM641.48,109.3h2.8V112.9h-2.8zM644.31,113.6h2.8V135.5h-2.8zM647.14,132.7h2.8V141.9h-2.8zM649.97,142.2h2.8V148.0h-2.8zM652.80,144.8h2.8V147.8h-2.8zM655.63,142.4h2.8V168.3h-2.8zM661.29,145.2h2.8V170.9h-2.8zM664.12,179.2h2.8V186.4h-2.8zM669.77,184.9h2.8V194.9h-2.8zM675.43,202.2h2.8V221.8h-2.8zM678.26,224.3h2.8V231.0h-2.8zM681.09,219.7h2.8V225.1h-2.8zM683.92,226.2h2.8V241.9h-2.8zM692.41,213.2h2.8V221.8h-2.8z" fill="#1e8cff"/>
<path d="M715.2,152.70 l2.6,-3.2 H736 v6.4 H717.8 z" fill="#22c03c"/>
<text x="718.6" y="154.9" font-family="Liberation Sans, DejaVu Sans, sans-serif" font-size="6.2" fill="#fff" textLength="16.6" lengthAdjust="spacingAndGlyphs">5933.58</text>
<path d="M715.2,156.28 l2.6,-3.2 H736 v6.4 H717.8 z" fill="#e612a6"/>
<text x="718.6" y="158.48" font-family="Liberation Sans, DejaVu Sans, sans-serif" font-size="6.2" fill="#ffd4f2" textLength="16.6" lengthAdjust="spacingAndGlyphs">5917.02</text>
<path d="M715.2,192.47 l2.6,-3.2 H736 v6.4 H717.8 z" fill="#f0c40c"/>
<text x="718.6" y="194.67" font-family="Liberation Sans, DejaVu Sans, sans-serif" font-size="6.2" fill="#5e4e00" textLength="16.6" lengthAdjust="spacingAndGlyphs">5749.92</text>
<path d="M715.2,210.31 l2.6,-3.2 H736 v6.4 H717.8 z" fill="#f2f2f2"/>
<text x="718.6" y="212.51" font-family="Liberation Sans, DejaVu Sans, sans-serif" font-size="6.2" fill="#6a6a6a" textLength="16.6" lengthAdjust="spacingAndGlyphs">5667.56</text>
<rect x="2.6" y="76.6" width="87" height="46.4" fill="#1b1b1b"/>
<text x="14" y="83.9" font-family="Liberation Sans, DejaVu Sans, sans-serif" font-size="6.2" fill="#cfcfcf" textLength="23.5" lengthAdjust="spacingAndGlyphs" xml:space="preserve">Last Price</text>
<text x="70" y="83.9" font-family="Liberation Sans, DejaVu Sans, sans-serif" font-size="6.2" fill="#cfcfcf" textLength="17.5" lengthAdjust="spacingAndGlyphs">5667.56</text>
<text x="14" y="89.97" font-family="Liberation Sans, DejaVu Sans, sans-serif" font-size="6.2" fill="#cfcfcf" textLength="41" lengthAdjust="spacingAndGlyphs" xml:space="preserve">High on 02/19/25</text>
<text x="70" y="89.97" font-family="Liberation Sans, DejaVu Sans, sans-serif" font-size="6.2" fill="#cfcfcf" textLength="17.5" lengthAdjust="spacingAndGlyphs">6147.43</text>
<text x="14" y="96.04" font-family="Liberation Sans, DejaVu Sans, sans-serif" font-size="6.2" fill="#cfcfcf" textLength="18" lengthAdjust="spacingAndGlyphs" xml:space="preserve">Average</text>
<text x="70" y="96.04" font-family="Liberation Sans, DejaVu Sans, sans-serif" font-size="6.2" fill="#cfcfcf" textLength="17.5" lengthAdjust="spacingAndGlyphs">5637.92</text>
<text x="14" y="102.11" font-family="Liberation Sans, DejaVu Sans, sans-serif" font-size="6.2" fill="#cfcfcf" textLength="39.8" lengthAdjust="spacingAndGlyphs" xml:space="preserve">Low on 04/19/24</text>
<text x="70" y="102.11" font-family="Liberation Sans, DejaVu Sans, sans-serif" font-size="6.2" fill="#cfcfcf" textLength="17.5" lengthAdjust="spacingAndGlyphs">4953.56</text>
<text x="14" y="108.18" font-family="Liberation Sans, DejaVu Sans, sans-serif" font-size="6.2" fill="#cfcfcf" textLength="51" lengthAdjust="spacingAndGlyphs" xml:space="preserve">SMAVG (50)  on Close</text>
<text x="70" y="108.18" font-family="Liberation Sans, DejaVu Sans, sans-serif" font-size="6.2" fill="#cfcfcf" textLength="17.5" lengthAdjust="spacingAndGlyphs">5917.02</text>
<text x="14" y="114.25" font-family="Liberation Sans, DejaVu Sans, sans-serif" font-size="6.2" fill="#cfcfcf" textLength="53.5" lengthAdjust="spacingAndGlyphs" xml:space="preserve">SMAVG (100)  on Close</text>
<text x="70" y="114.25" font-family="Liberation Sans, DejaVu Sans, sans-serif" font-size="6.2" fill="#cfcfcf" textLength="17.5" lengthAdjust="spacingAndGlyphs">5933.58</text>
<text x="14" y="120.32" font-family="Liberation Sans, DejaVu Sans, sans-serif" font-size="6.2" fill="#cfcfcf" textLength="53.5" lengthAdjust="spacingAndGlyphs" xml:space="preserve">SMAVG (200)  on Close</text>
<text x="70" y="120.32" font-family="Liberation Sans, DejaVu Sans, sans-serif" font-size="6.2" fill="#cfcfcf" textLength="17.5" lengthAdjust="spacingAndGlyphs">5749.92</text>
<line x1="5.3" y1="83" x2="5.3" y2="119" stroke="#555" stroke-width="0.6"/>
<rect x="4.2" y="79.6" width="2.2" height="2.6" fill="#1b1b1b" stroke="#888" stroke-width="0.5"/>
<rect x="8" y="79.2" width="4.8" height="4.6" fill="#f4f4f4"/>
<path d="M9.4,85.5h2.2M10.5,85.5v4.6" fill="none" stroke="#999" stroke-width="0.7"/>
<path d="M8.6,93.9h3.6M10.5,92.5v2.8" fill="none" stroke="#888" stroke-width="0.7"/>
<path d="M9.4,102.3h2.2M10.5,102.3v-4.6" fill="none" stroke="#999" stroke-width="0.7"/>
<rect x="8" y="103.8" width="4.8" height="4.7" fill="#e612a6"/>
<rect x="8" y="109.9" width="4.8" height="4.7" fill="#2ad04a"/>
<rect x="9.4" y="111.3" width="2" height="1.9" fill="#168a2c"/>
<rect x="8" y="116" width="4.8" height="4.7" fill="#f0c40c"/>
<line x1="5.3" y1="87.87" x2="7.2" y2="87.87" stroke="#555" stroke-width="0.6"/>
<line x1="5.3" y1="93.94" x2="7.2" y2="93.94" stroke="#555" stroke-width="0.6"/>
<line x1="5.3" y1="100.01" x2="7.2" y2="100.01" stroke="#555" stroke-width="0.6"/>
<line x1="5.3" y1="106.08" x2="7.2" y2="106.08" stroke="#555" stroke-width="0.6"/>
<line x1="5.3" y1="112.15" x2="7.2" y2="112.15" stroke="#555" stroke-width="0.6"/>
<line x1="5.3" y1="118.22" x2="7.2" y2="118.22" stroke="#555" stroke-width="0.6"/>
<text transform="translate(74.6,494.0) scale(1.0,1)" fill="#fff" xml:space="preserve" text-rendering="geometricPrecision" stroke="#fff" stroke-width="0.28"><tspan font-family="DejaVu Sans Mono, Liberation Mono, monospace" font-size="8.5" x="-0.06 4.94 9.94 14.94 19.94 24.94 29.94 34.94 39.94 44.94">Australia </tspan><tspan font-family="Liberation Sans, DejaVu Sans, sans-serif" font-size="8.8" x="50.05 55.05 61.28 65.05 71.28 75.05 80.05 85.05 90.05 96.28 100.05 105.05 110.05 115.05 121.28">61 2 9777 8600 </tspan><tspan font-family="DejaVu Sans Mono, Liberation Mono, monospace" font-size="8.5" x="124.94 129.94 134.94 139.94 144.94 149.94 154.94">Brazil </tspan><tspan font-family="Liberation Sans, DejaVu Sans, sans-serif" font-size="8.8" x="160.05 165.05 170.05 175.05 181.28 185.05 190.05 195.05 200.05 206.28 210.05 215.05 220.05 225.05 231.28">5511 2395 9000 </tspan><tspan font-family="DejaVu Sans Mono, Liberation Mono, monospace" font-size="8.5" x="234.94 239.94 244.94 249.94 254.94 259.94 264.94">Europe </tspan><tspan font-family="Liberation Sans, DejaVu Sans, sans-serif" font-size="8.8" x="270.05 275.05 281.28 285.05 290.05 296.28 300.05 305.05 310.05 315.05 321.28 325.05 330.05 335.05 340.05 346.28">44 20 7330 7500 </tspan><tspan font-family="DejaVu Sans Mono, Liberation Mono, monospace" font-size="8.5" x="349.94 354.94 359.94 364.94 369.94 374.94 379.94 384.94">Germany </tspan><tspan font-family="Liberation Sans, DejaVu Sans, sans-serif" font-size="8.8" x="390.05 395.05 401.28 405.05 410.05 416.28 420.05 425.05 430.05 435.05 441.28 445.05 450.05 455.05 460.05 466.28">49 69 9204 1210 </tspan><tspan font-family="DejaVu Sans Mono, Liberation Mono, monospace" font-size="8.5" x="469.94 474.94 479.94 484.94 489.94 494.94 499.94 504.94 509.94 514.94">Hong Kong </tspan><tspan font-family="Liberation Sans, DejaVu Sans, sans-serif" font-size="8.8" x="520.05 525.05 530.05 536.28 540.05 545.05 550.05 555.05 561.28 565.05 570.05 575.05 580.05">852 2977 6000</tspan></text>
<text transform="translate(74.6,503.9) scale(1.0,1)" fill="#fff" xml:space="preserve" text-rendering="geometricPrecision" stroke="#fff" stroke-width="0.28"><tspan font-family="DejaVu Sans Mono, Liberation Mono, monospace" font-size="8.5" x="-0.06 4.94 9.94 14.94 19.94 24.94">Japan </tspan><tspan font-family="Liberation Sans, DejaVu Sans, sans-serif" font-size="8.8" x="30.05 35.05 41.28 45.05 51.28 55.05 60.05 65.05 70.05 76.28 80.05 85.05 90.05 95.05">81 3 4565 8900</tspan></text>
<text transform="translate(204.6,503.9) scale(1.0,1)" fill="#fff" xml:space="preserve" text-rendering="geometricPrecision" stroke="#fff" stroke-width="0.28"><tspan font-family="DejaVu Sans Mono, Liberation Mono, monospace" font-size="8.5" x="-0.06 4.94 9.94 14.94 19.94 24.94 29.94 34.94 39.94 44.94">Singapore </tspan><tspan font-family="Liberation Sans, DejaVu Sans, sans-serif" font-size="8.8" x="50.05 55.05 61.28 65.05 70.05 75.05 80.05 86.28 90.05 95.05 100.05 105.05">65 6212 1000</tspan></text>
<text transform="translate(344.6,503.9) scale(1.0,1)" fill="#fff" xml:space="preserve" text-rendering="geometricPrecision" stroke="#fff" stroke-width="0.28"><tspan font-family="DejaVu Sans Mono, Liberation Mono, monospace" font-size="8.5" x="-0.06 4.94 9.94 14.94 19.94">U.S. </tspan><tspan font-family="Liberation Sans, DejaVu Sans, sans-serif" font-size="8.8" x="25.05 31.28 35.05 40.05 45.05 51.28 55.05 60.05 65.05 71.28 75.05 80.05 85.05 90.05">1 212 318 2000</tspan></text>
<text transform="translate(474.8,503.9) scale(1.0,1)" fill="#fff" xml:space="preserve" text-rendering="geometricPrecision" stroke="#fff" stroke-width="0.28"><tspan font-family="DejaVu Sans Mono, Liberation Mono, monospace" font-size="8.5" x="-0.06 4.94 9.94 14.94 19.94 24.94 29.94 34.94 39.94 44.94">Copyright </tspan><tspan font-family="Liberation Sans, DejaVu Sans, sans-serif" font-size="8.8" x="50.05 55.05 60.05 65.05 71.28">2025 </tspan><tspan font-family="DejaVu Sans Mono, Liberation Mono, monospace" font-size="8.5" x="74.94 79.94 84.94 89.94 94.94 99.94 104.94 109.94 114.94 119.94 124.94 129.94 134.94 139.94 144.94 149.94 154.94 159.94 164.94 169.94 174.94 179.94">Bloomberg Finance L.P.</tspan></text>
<text transform="translate(449.2,514.0) scale(1.0,1)" fill="#fff" xml:space="preserve" text-rendering="geometricPrecision" stroke="#fff" stroke-width="0.28"><tspan font-family="DejaVu Sans Mono, Liberation Mono, monospace" font-size="8.5" x="-0.06 4.94 9.94">SN </tspan><tspan font-family="Liberation Sans, DejaVu Sans, sans-serif" font-size="8.8" x="15.05 20.05 25.05 30.05 35.05 40.05 45.05 51.28">3379190 </tspan><tspan font-family="DejaVu Sans Mono, Liberation Mono, monospace" font-size="8.5" x="54.94 59.94 64.94 69.94 74.94 79.94 84.94 89.94 94.94 99.94 104.94 109.94 114.94 119.94 124.94 129.94 134.94 139.94 144.94 149.94 154.94 159.94 164.94 169.94 174.94 179.94 184.94 189.94 194.94 199.94 204.94 209.94 214.94 219.94 224.94 229.94 234.94">EDT  GMT-4:00 ba1222-173 23-Mar-2025 </tspan><tspan font-family="Liberation Sans, DejaVu Sans, sans-serif" font-size="8.8" x="240.05 245.05 251.28 255.05 260.05 266.28 270.05 275.05">09:44:05</tspan></text>
</svg>
</body></html>
